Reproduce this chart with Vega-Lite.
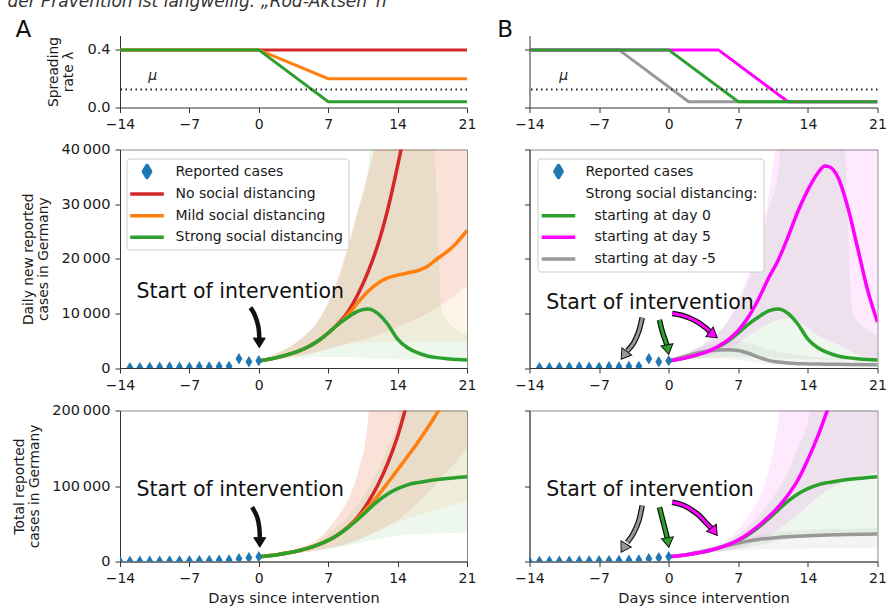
{
  "$schema": "https://vega.github.io/schema/vega-lite/v6.json",
  "padding": {"left": 7, "top": -7.5, "right": 0, "bottom": 0},
  "autosize": {"type": "pad"},
  "columns": 2,
  "spacing": {"row": 42, "column": 62.5},
  "bounds": "flush",
  "resolve": {"scale": {"x": "independent", "y": "independent", "color": "independent", "fill": "independent"}, "legend": {"color": "independent"}},
  "datasets": {
    "lambda": [
      {"s": "none", "day": -14, "r": 0.4}, {"s": "none", "day": 21, "r": 0.4},
      {"s": "mild", "day": -14, "r": 0.4}, {"s": "mild", "day": 0, "r": 0.4}, {"s": "mild", "day": 7, "r": 0.2}, {"s": "mild", "day": 21, "r": 0.2},
      {"s": "dayminus5", "day": -14, "r": 0.4}, {"s": "dayminus5", "day": -5, "r": 0.4}, {"s": "dayminus5", "day": 2, "r": 0.04}, {"s": "dayminus5", "day": 21, "r": 0.04},
      {"s": "day5", "day": -14, "r": 0.4}, {"s": "day5", "day": 5, "r": 0.4}, {"s": "day5", "day": 12, "r": 0.04}, {"s": "day5", "day": 21, "r": 0.04},
      {"s": "strong", "day": -14, "r": 0.4}, {"s": "strong", "day": 0, "r": 0.4}, {"s": "strong", "day": 7, "r": 0.04}, {"s": "strong", "day": 21, "r": 0.04}
    ],
    "mu": [{"mu": 0.125}],
    "daily": [
      {"s": "none", "day": 0, "v": 1300}, {"s": "none", "day": 1, "v": 1600}, {"s": "none", "day": 2, "v": 2000}, {"s": "none", "day": 3, "v": 2500}, {"s": "none", "day": 4, "v": 3100}, {"s": "none", "day": 5, "v": 3900}, {"s": "none", "day": 6, "v": 5000}, {"s": "none", "day": 7, "v": 6400}, {"s": "none", "day": 8, "v": 8100}, {"s": "none", "day": 9, "v": 10300}, {"s": "none", "day": 10, "v": 13500}, {"s": "none", "day": 11, "v": 17500}, {"s": "none", "day": 12, "v": 22500}, {"s": "none", "day": 13, "v": 29000}, {"s": "none", "day": 14, "v": 37000}, {"s": "none", "day": 15, "v": 46000},
      {"s": "mild", "day": 0, "v": 1300}, {"s": "mild", "day": 1, "v": 1600}, {"s": "mild", "day": 2, "v": 2000}, {"s": "mild", "day": 3, "v": 2500}, {"s": "mild", "day": 4, "v": 3100}, {"s": "mild", "day": 5, "v": 3900}, {"s": "mild", "day": 6, "v": 5000}, {"s": "mild", "day": 7, "v": 6400}, {"s": "mild", "day": 8, "v": 8000}, {"s": "mild", "day": 9, "v": 9800}, {"s": "mild", "day": 10, "v": 12000}, {"s": "mild", "day": 11, "v": 14000}, {"s": "mild", "day": 12, "v": 15500}, {"s": "mild", "day": 13, "v": 16500}, {"s": "mild", "day": 14, "v": 17000}, {"s": "mild", "day": 15, "v": 17400}, {"s": "mild", "day": 16, "v": 17800}, {"s": "mild", "day": 17, "v": 18600}, {"s": "mild", "day": 18, "v": 20000}, {"s": "mild", "day": 19, "v": 21300}, {"s": "mild", "day": 20, "v": 23000}, {"s": "mild", "day": 21, "v": 25200},
      {"s": "strong", "day": 0, "v": 1300}, {"s": "strong", "day": 1, "v": 1600}, {"s": "strong", "day": 2, "v": 2000}, {"s": "strong", "day": 3, "v": 2500}, {"s": "strong", "day": 4, "v": 3100}, {"s": "strong", "day": 5, "v": 3900}, {"s": "strong", "day": 6, "v": 5000}, {"s": "strong", "day": 7, "v": 6400}, {"s": "strong", "day": 8, "v": 8000}, {"s": "strong", "day": 9, "v": 9300}, {"s": "strong", "day": 10, "v": 10400}, {"s": "strong", "day": 11, "v": 10800}, {"s": "strong", "day": 12, "v": 10000}, {"s": "strong", "day": 13, "v": 8000}, {"s": "strong", "day": 14, "v": 5300}, {"s": "strong", "day": 15, "v": 3700}, {"s": "strong", "day": 16, "v": 2800}, {"s": "strong", "day": 17, "v": 2200}, {"s": "strong", "day": 18, "v": 1900}, {"s": "strong", "day": 19, "v": 1700}, {"s": "strong", "day": 20, "v": 1550}, {"s": "strong", "day": 21, "v": 1450},
      {"s": "dayminus5", "day": 0, "v": 1300}, {"s": "dayminus5", "day": 1, "v": 1800}, {"s": "dayminus5", "day": 2, "v": 2300}, {"s": "dayminus5", "day": 3, "v": 2800}, {"s": "dayminus5", "day": 4, "v": 3100}, {"s": "dayminus5", "day": 5, "v": 3300}, {"s": "dayminus5", "day": 6, "v": 3350}, {"s": "dayminus5", "day": 7, "v": 3200}, {"s": "dayminus5", "day": 8, "v": 2700}, {"s": "dayminus5", "day": 9, "v": 2000}, {"s": "dayminus5", "day": 10, "v": 1400}, {"s": "dayminus5", "day": 11, "v": 1100}, {"s": "dayminus5", "day": 12, "v": 900}, {"s": "dayminus5", "day": 13, "v": 800}, {"s": "dayminus5", "day": 14, "v": 750}, {"s": "dayminus5", "day": 16, "v": 700}, {"s": "dayminus5", "day": 18, "v": 650}, {"s": "dayminus5", "day": 21, "v": 600},
      {"s": "day5", "day": 0, "v": 1300}, {"s": "day5", "day": 1, "v": 1600}, {"s": "day5", "day": 2, "v": 2000}, {"s": "day5", "day": 3, "v": 2500}, {"s": "day5", "day": 4, "v": 3100}, {"s": "day5", "day": 5, "v": 4000}, {"s": "day5", "day": 6, "v": 5200}, {"s": "day5", "day": 7, "v": 6900}, {"s": "day5", "day": 8, "v": 9300}, {"s": "day5", "day": 9, "v": 12500}, {"s": "day5", "day": 10, "v": 16300}, {"s": "day5", "day": 11, "v": 19700}, {"s": "day5", "day": 12, "v": 24000}, {"s": "day5", "day": 13, "v": 28700}, {"s": "day5", "day": 14, "v": 32600}, {"s": "day5", "day": 15, "v": 35700}, {"s": "day5", "day": 15.7, "v": 37000}, {"s": "day5", "day": 16.2, "v": 36800}, {"s": "day5", "day": 17, "v": 35000}, {"s": "day5", "day": 18, "v": 29500}, {"s": "day5", "day": 19, "v": 22000}, {"s": "day5", "day": 20, "v": 14300}, {"s": "day5", "day": 21, "v": 8400}
    ],
    "dailyBand": [
      {"s": "none", "day": 0, "lo": 1300, "hi": 1300}, {"s": "none", "day": 2, "lo": 1700, "hi": 2800}, {"s": "none", "day": 4, "lo": 2200, "hi": 5000}, {"s": "none", "day": 6, "lo": 3000, "hi": 8700}, {"s": "none", "day": 7, "lo": 3500, "hi": 12000}, {"s": "none", "day": 8, "lo": 4000, "hi": 16500}, {"s": "none", "day": 9, "lo": 4500, "hi": 22500}, {"s": "none", "day": 10, "lo": 5000, "hi": 29000}, {"s": "none", "day": 11, "lo": 5500, "hi": 35500}, {"s": "none", "day": 12, "lo": 6000, "hi": 42000}, {"s": "none", "day": 14, "lo": 7500, "hi": 50000}, {"s": "none", "day": 17, "lo": 10000, "hi": 50000}, {"s": "none", "day": 21, "lo": 15000, "hi": 50000},
      {"s": "mild", "day": 0, "lo": 1300, "hi": 1300}, {"s": "mild", "day": 2, "lo": 1700, "hi": 2800}, {"s": "mild", "day": 4, "lo": 2200, "hi": 5000}, {"s": "mild", "day": 6, "lo": 3000, "hi": 8700}, {"s": "mild", "day": 7, "lo": 3500, "hi": 12000}, {"s": "mild", "day": 8, "lo": 4000, "hi": 16500}, {"s": "mild", "day": 9, "lo": 4400, "hi": 22500}, {"s": "mild", "day": 10, "lo": 4600, "hi": 29000}, {"s": "mild", "day": 11, "lo": 4700, "hi": 35500}, {"s": "mild", "day": 12, "lo": 4700, "hi": 42000}, {"s": "mild", "day": 14, "lo": 4700, "hi": 50000}, {"s": "mild", "day": 21, "lo": 4800, "hi": 50000},
      {"s": "strong", "day": 0, "lo": 1300, "hi": 1300}, {"s": "strong", "day": 2, "lo": 1600, "hi": 2800}, {"s": "strong", "day": 4, "lo": 1800, "hi": 5000}, {"s": "strong", "day": 6, "lo": 2000, "hi": 8700}, {"s": "strong", "day": 7, "lo": 2000, "hi": 11800}, {"s": "strong", "day": 8, "lo": 2000, "hi": 16000}, {"s": "strong", "day": 9, "lo": 2000, "hi": 21500}, {"s": "strong", "day": 10, "lo": 1900, "hi": 28500}, {"s": "strong", "day": 11, "lo": 1800, "hi": 36000}, {"s": "strong", "day": 11.5, "lo": 1700, "hi": 45000}, {"s": "strong", "day": 17.5, "lo": 1500, "hi": 45000}, {"s": "strong", "day": 18.5, "lo": 1500, "hi": 10000}, {"s": "strong", "day": 21, "lo": 1400, "hi": 6000},
      {"s": "dayminus5", "day": 0, "lo": 1300, "hi": 1300}, {"s": "dayminus5", "day": 2, "lo": 1500, "hi": 3000}, {"s": "dayminus5", "day": 4, "lo": 1700, "hi": 4300}, {"s": "dayminus5", "day": 6, "lo": 1600, "hi": 5000}, {"s": "dayminus5", "day": 8, "lo": 1200, "hi": 4600}, {"s": "dayminus5", "day": 10, "lo": 700, "hi": 3500}, {"s": "dayminus5", "day": 12, "lo": 450, "hi": 2600}, {"s": "dayminus5", "day": 14, "lo": 350, "hi": 2100}, {"s": "dayminus5", "day": 17, "lo": 300, "hi": 1800}, {"s": "dayminus5", "day": 21, "lo": 300, "hi": 1700},
      {"s": "day5", "day": 0, "lo": 1300, "hi": 1300}, {"s": "day5", "day": 2, "lo": 1700, "hi": 2800}, {"s": "day5", "day": 4, "lo": 2300, "hi": 5000}, {"s": "day5", "day": 6, "lo": 3500, "hi": 8800}, {"s": "day5", "day": 7, "lo": 4500, "hi": 12500}, {"s": "day5", "day": 8, "lo": 5800, "hi": 17000}, {"s": "day5", "day": 9, "lo": 7000, "hi": 23500}, {"s": "day5", "day": 10, "lo": 8000, "hi": 31000}, {"s": "day5", "day": 10.7, "lo": 8600, "hi": 40000}, {"s": "day5", "day": 11, "lo": 8800, "hi": 45000}, {"s": "day5", "day": 12, "lo": 9000, "hi": 45000}, {"s": "day5", "day": 13, "lo": 8500, "hi": 45000}, {"s": "day5", "day": 14, "lo": 7300, "hi": 45000}, {"s": "day5", "day": 15, "lo": 6000, "hi": 45000}, {"s": "day5", "day": 17, "lo": 4300, "hi": 45000}, {"s": "day5", "day": 19, "lo": 2500, "hi": 45000}, {"s": "day5", "day": 21, "lo": 1500, "hi": 45000}
    ],
    "total": [
      {"s": "none", "day": 0, "v": 6300}, {"s": "none", "day": 1, "v": 7600}, {"s": "none", "day": 2, "v": 9300}, {"s": "none", "day": 3, "v": 11500}, {"s": "none", "day": 4, "v": 14200}, {"s": "none", "day": 5, "v": 17700}, {"s": "none", "day": 6, "v": 22200}, {"s": "none", "day": 7, "v": 28000}, {"s": "none", "day": 8, "v": 35500}, {"s": "none", "day": 9, "v": 46000}, {"s": "none", "day": 10, "v": 59000}, {"s": "none", "day": 11, "v": 78000}, {"s": "none", "day": 12, "v": 101000}, {"s": "none", "day": 13, "v": 130000}, {"s": "none", "day": 14, "v": 166000}, {"s": "none", "day": 15, "v": 212000},
      {"s": "mild", "day": 0, "v": 6300}, {"s": "mild", "day": 1, "v": 7600}, {"s": "mild", "day": 2, "v": 9300}, {"s": "mild", "day": 3, "v": 11500}, {"s": "mild", "day": 4, "v": 14200}, {"s": "mild", "day": 5, "v": 17700}, {"s": "mild", "day": 6, "v": 22200}, {"s": "mild", "day": 7, "v": 28000}, {"s": "mild", "day": 8, "v": 35500}, {"s": "mild", "day": 9, "v": 45500}, {"s": "mild", "day": 10, "v": 57500}, {"s": "mild", "day": 11, "v": 71500}, {"s": "mild", "day": 12, "v": 87000}, {"s": "mild", "day": 13, "v": 104000}, {"s": "mild", "day": 14, "v": 121500}, {"s": "mild", "day": 15, "v": 139000}, {"s": "mild", "day": 16, "v": 157000}, {"s": "mild", "day": 17, "v": 176500}, {"s": "mild", "day": 18, "v": 197000}, {"s": "mild", "day": 19, "v": 219000},
      {"s": "strong", "day": 0, "v": 6300}, {"s": "strong", "day": 1, "v": 7600}, {"s": "strong", "day": 2, "v": 9300}, {"s": "strong", "day": 3, "v": 11500}, {"s": "strong", "day": 4, "v": 14200}, {"s": "strong", "day": 5, "v": 17700}, {"s": "strong", "day": 6, "v": 22200}, {"s": "strong", "day": 7, "v": 28000}, {"s": "strong", "day": 8, "v": 35500}, {"s": "strong", "day": 9, "v": 45000}, {"s": "strong", "day": 10, "v": 56000}, {"s": "strong", "day": 11, "v": 68000}, {"s": "strong", "day": 12, "v": 80000}, {"s": "strong", "day": 13, "v": 89500}, {"s": "strong", "day": 14, "v": 96500}, {"s": "strong", "day": 15, "v": 101500}, {"s": "strong", "day": 16, "v": 104500}, {"s": "strong", "day": 17, "v": 106700}, {"s": "strong", "day": 18, "v": 108500}, {"s": "strong", "day": 19, "v": 110000}, {"s": "strong", "day": 20, "v": 111200}, {"s": "strong", "day": 21, "v": 112300},
      {"s": "dayminus5", "day": 0, "v": 6300}, {"s": "dayminus5", "day": 1, "v": 7800}, {"s": "dayminus5", "day": 2, "v": 9800}, {"s": "dayminus5", "day": 3, "v": 12300}, {"s": "dayminus5", "day": 4, "v": 15100}, {"s": "dayminus5", "day": 5, "v": 18200}, {"s": "dayminus5", "day": 6, "v": 21400}, {"s": "dayminus5", "day": 7, "v": 24400}, {"s": "dayminus5", "day": 8, "v": 27000}, {"s": "dayminus5", "day": 9, "v": 29000}, {"s": "dayminus5", "day": 10, "v": 30600}, {"s": "dayminus5", "day": 11, "v": 31800}, {"s": "dayminus5", "day": 12, "v": 32700}, {"s": "dayminus5", "day": 13, "v": 33400}, {"s": "dayminus5", "day": 14, "v": 34000}, {"s": "dayminus5", "day": 16, "v": 35000}, {"s": "dayminus5", "day": 18, "v": 35700}, {"s": "dayminus5", "day": 21, "v": 36500},
      {"s": "day5", "day": 0, "v": 6300}, {"s": "day5", "day": 1, "v": 7600}, {"s": "day5", "day": 2, "v": 9300}, {"s": "day5", "day": 3, "v": 11500}, {"s": "day5", "day": 4, "v": 14200}, {"s": "day5", "day": 5, "v": 17700}, {"s": "day5", "day": 6, "v": 22200}, {"s": "day5", "day": 7, "v": 28500}, {"s": "day5", "day": 8, "v": 37000}, {"s": "day5", "day": 9, "v": 47000}, {"s": "day5", "day": 10, "v": 58500}, {"s": "day5", "day": 11, "v": 72000}, {"s": "day5", "day": 12, "v": 88000}, {"s": "day5", "day": 13, "v": 108000}, {"s": "day5", "day": 14, "v": 135000}, {"s": "day5", "day": 15, "v": 166000}, {"s": "day5", "day": 16, "v": 202000}, {"s": "day5", "day": 17, "v": 240000}
    ],
    "totalBand": [
      {"s": "none", "day": 0, "lo": 6300, "hi": 6300}, {"s": "none", "day": 2, "lo": 8500, "hi": 11000}, {"s": "none", "day": 4, "lo": 11500, "hi": 18000}, {"s": "none", "day": 6, "lo": 15000, "hi": 30000}, {"s": "none", "day": 7, "lo": 17500, "hi": 43000}, {"s": "none", "day": 8, "lo": 20500, "hi": 60000}, {"s": "none", "day": 9, "lo": 24000, "hi": 82000}, {"s": "none", "day": 10, "lo": 28500, "hi": 118000}, {"s": "none", "day": 11, "lo": 34000, "hi": 185000}, {"s": "none", "day": 11.3, "lo": 36000, "hi": 230000}, {"s": "none", "day": 14, "lo": 55000, "hi": 230000}, {"s": "none", "day": 17, "lo": 90000, "hi": 230000}, {"s": "none", "day": 21, "lo": 150000, "hi": 230000},
      {"s": "mild", "day": 0, "lo": 6300, "hi": 6300}, {"s": "mild", "day": 2, "lo": 8500, "hi": 11000}, {"s": "mild", "day": 4, "lo": 11500, "hi": 18000}, {"s": "mild", "day": 6, "lo": 15000, "hi": 30000}, {"s": "mild", "day": 7, "lo": 17500, "hi": 43000}, {"s": "mild", "day": 8, "lo": 20500, "hi": 60000}, {"s": "mild", "day": 9, "lo": 24000, "hi": 82000}, {"s": "mild", "day": 10, "lo": 28500, "hi": 118000}, {"s": "mild", "day": 11, "lo": 34000, "hi": 185000}, {"s": "mild", "day": 11.3, "lo": 36000, "hi": 230000}, {"s": "mild", "day": 14, "lo": 52000, "hi": 230000}, {"s": "mild", "day": 17, "lo": 65000, "hi": 230000}, {"s": "mild", "day": 21, "lo": 80000, "hi": 230000},
      {"s": "strong", "day": 0, "lo": 6300, "hi": 6300}, {"s": "strong", "day": 2, "lo": 8200, "hi": 10500}, {"s": "strong", "day": 4, "lo": 11000, "hi": 17000}, {"s": "strong", "day": 6, "lo": 14500, "hi": 27000}, {"s": "strong", "day": 7, "lo": 16500, "hi": 36000}, {"s": "strong", "day": 8, "lo": 19000, "hi": 47000}, {"s": "strong", "day": 9, "lo": 21500, "hi": 60000}, {"s": "strong", "day": 10, "lo": 24000, "hi": 76000}, {"s": "strong", "day": 11, "lo": 27000, "hi": 96000}, {"s": "strong", "day": 12, "lo": 29500, "hi": 120000}, {"s": "strong", "day": 13, "lo": 32000, "hi": 150000}, {"s": "strong", "day": 14, "lo": 34000, "hi": 185000}, {"s": "strong", "day": 14.7, "lo": 35000, "hi": 230000}, {"s": "strong", "day": 18, "lo": 37000, "hi": 230000}, {"s": "strong", "day": 21, "lo": 38000, "hi": 230000},
      {"s": "dayminus5", "day": 0, "lo": 6300, "hi": 6300}, {"s": "dayminus5", "day": 2, "lo": 8500, "hi": 11000}, {"s": "dayminus5", "day": 4, "lo": 11500, "hi": 18500}, {"s": "dayminus5", "day": 6, "lo": 14000, "hi": 26000}, {"s": "dayminus5", "day": 8, "lo": 15500, "hi": 32000}, {"s": "dayminus5", "day": 10, "lo": 16500, "hi": 37000}, {"s": "dayminus5", "day": 13, "lo": 17000, "hi": 41000}, {"s": "dayminus5", "day": 16, "lo": 17300, "hi": 43000}, {"s": "dayminus5", "day": 21, "lo": 17500, "hi": 44000},
      {"s": "day5", "day": 0, "lo": 6300, "hi": 6300}, {"s": "day5", "day": 2, "lo": 8500, "hi": 11000}, {"s": "day5", "day": 4, "lo": 11500, "hi": 18000}, {"s": "day5", "day": 6, "lo": 15500, "hi": 30000}, {"s": "day5", "day": 7, "lo": 18500, "hi": 43000}, {"s": "day5", "day": 8, "lo": 22500, "hi": 60000}, {"s": "day5", "day": 9, "lo": 28000, "hi": 82000}, {"s": "day5", "day": 10, "lo": 34000, "hi": 118000}, {"s": "day5", "day": 11, "lo": 42000, "hi": 185000}, {"s": "day5", "day": 11.4, "lo": 46000, "hi": 230000}, {"s": "day5", "day": 13, "lo": 62000, "hi": 230000}, {"s": "day5", "day": 15, "lo": 85000, "hi": 230000}, {"s": "day5", "day": 17, "lo": 102000, "hi": 230000}, {"s": "day5", "day": 19, "lo": 112000, "hi": 230000}, {"s": "day5", "day": 21, "lo": 118000, "hi": 230000}
    ],
    "repDaily": [
      {"day": -13, "v": 50}, {"day": -12, "v": 60}, {"day": -11, "v": 100}, {"day": -10, "v": 140}, {"day": -9, "v": 200}, {"day": -8, "v": 150}, {"day": -7, "v": 120}, {"day": -6, "v": 220}, {"day": -5, "v": 180}, {"day": -4, "v": 270}, {"day": -3, "v": 300}, {"day": -2, "v": 1700}, {"day": -1, "v": 1150}, {"day": 0, "v": 1350}
    ],
    "repTotal": [
      {"day": -14, "v": 150}, {"day": -13, "v": 190}, {"day": -12, "v": 240}, {"day": -11, "v": 350}, {"day": -10, "v": 500}, {"day": -9, "v": 700}, {"day": -8, "v": 850}, {"day": -7, "v": 1000}, {"day": -6, "v": 1200}, {"day": -5, "v": 1400}, {"day": -4, "v": 1650}, {"day": -3, "v": 2000}, {"day": -2, "v": 3700}, {"day": -1, "v": 4900}, {"day": 0, "v": 6300}
    ],
    "arrows": [
      {"a": "mA", "i": 0, "day": -0.84, "v": 11060}, {"a": "mA", "i": 1, "day": -0.4, "v": 9700}, {"a": "mA", "i": 2, "day": -0.05, "v": 7600}, {"a": "mA", "i": 3, "day": 0.05, "v": 5500},
      {"a": "mBg", "i": 0, "day": -2.67, "v": 9230}, {"a": "mBg", "i": 1, "day": -3.0, "v": 6790}, {"a": "mBg", "i": 2, "day": -3.51, "v": 4640}, {"a": "mBg", "i": 3, "day": -4.17, "v": 3120},
      {"a": "mBs", "i": 0, "day": -0.93, "v": 8800}, {"a": "mBs", "i": 1, "day": -0.66, "v": 6790}, {"a": "mBs", "i": 2, "day": -0.32, "v": 4950}, {"a": "mBs", "i": 3, "day": -0.15, "v": 4040},
      {"a": "mBm", "i": 0, "day": 0.35, "v": 9960}, {"a": "mBm", "i": 1, "day": 1.52, "v": 9540}, {"a": "mBm", "i": 2, "day": 2.7, "v": 8620}, {"a": "mBm", "i": 3, "day": 3.7, "v": 7400}, {"a": "mBm", "i": 4, "day": 4.21, "v": 6480},
      {"a": "bA", "i": 0, "day": -0.67, "v": 71900}, {"a": "bA", "i": 1, "day": -0.16, "v": 58700}, {"a": "bA", "i": 2, "day": 0.05, "v": 45000}, {"a": "bA", "i": 3, "day": 0.1, "v": 31700},
      {"a": "bBg", "i": 0, "day": -2.67, "v": 74200}, {"a": "bBg", "i": 1, "day": -3.0, "v": 54300}, {"a": "bBg", "i": 2, "day": -3.57, "v": 36700}, {"a": "bBg", "i": 3, "day": -4.17, "v": 25600},
      {"a": "bBs", "i": 0, "day": -0.93, "v": 71900}, {"a": "bBs", "i": 1, "day": -0.59, "v": 54300}, {"a": "bBs", "i": 2, "day": -0.25, "v": 36700}, {"a": "bBs", "i": 3, "day": -0.09, "v": 27800},
      {"a": "bBm", "i": 0, "day": 0.35, "v": 78500}, {"a": "bBm", "i": 1, "day": 1.52, "v": 74200}, {"a": "bBm", "i": 2, "day": 2.86, "v": 63200}, {"a": "bBm", "i": 3, "day": 3.86, "v": 49900}, {"a": "bBm", "i": 4, "day": 4.36, "v": 43300}
    ],
    "heads": [
      {"a": "mA", "day": 0.05, "v": 3720}, {"a": "mBg", "day": -4.78, "v": 1600}, {"a": "mBs", "day": 0.01, "v": 2510}, {"a": "mBm", "day": 4.88, "v": 5560},
      {"a": "bA", "day": 0.1, "v": 18900}, {"a": "bBg", "day": -4.78, "v": 12300}, {"a": "bBs", "day": 0.01, "v": 18900}, {"a": "bBm", "day": 4.88, "v": 34400}
    ]
  },
  "concat": [
    {
      "width": 347, "height": 72, "view": {"stroke": null},
      "layer": [
        {"data": {"name": "lambda"}, "transform": [{"filter": "datum.s == 'none' || datum.s == 'mild' || datum.s == 'strong'"}],
         "mark": {"type": "line", "strokeWidth": 3, "clip": true},
         "encoding": {
           "x": {"field": "day", "type": "quantitative", "scale": {"domain": [-14, 21], "nice": false}, "axis": {"values": [-14, -7, 0, 7, 14, 21], "title": null}},
           "y": {"field": "r", "type": "quantitative", "scale": {"domain": [0, 0.5], "nice": false}, "axis": {"values": [0, 0.2, 0.4], "format": ".1f", "title": ["Spreading", "rate λ"], "titlePadding": 11, "labelFontSize": 14.5}},
           "color": {"field": "s", "type": "nominal", "scale": {"domain": ["none", "mild", "strong"], "range": ["#d62728", "#ff7f0e", "#2ca02c"]}, "legend": null}}},
        {"data": {"name": "mu"}, "mark": {"type": "rule", "strokeDash": [1.5, 3.5], "strokeWidth": 1.8, "color": "#222222"},
         "encoding": {"y": {"field": "mu", "type": "quantitative", "scale": {"domain": [0, 0.5], "nice": false}}}},
        {"data": {"values": [{}]}, "mark": {"type": "text", "text": "μ", "fontStyle": "italic", "fontSize": 14, "align": "center", "baseline": "middle", "color": "#222222"},
         "encoding": {"x": {"datum": -10.7, "type": "quantitative", "scale": {"domain": [-14, 21], "nice": false}}, "y": {"datum": 0.222, "type": "quantitative", "scale": {"domain": [0, 0.5], "nice": false}}}},
        {"data": {"values": [{}]}, "mark": {"type": "text", "text": "A", "fontSize": 23, "align": "left", "baseline": "alphabetic", "color": "#111111"},
         "encoding": {"x": {"datum": -24.54, "type": "quantitative", "scale": {"domain": [-14, 21], "nice": false}}, "y": {"datum": 0.488, "type": "quantitative", "scale": {"domain": [0, 0.5], "nice": false}}}},
        {"data": {"values": [{}]}, "mark": {"type": "text", "text": "der Prävention ist langweilig: „Rod-Aktsen“n", "fontSize": 17, "fontStyle": "italic", "align": "left", "baseline": "alphabetic", "color": "#333333"},
         "encoding": {"x": {"datum": -25.35, "type": "quantitative", "scale": {"domain": [-14, 21], "nice": false}}, "y": {"datum": 0.7, "type": "quantitative", "scale": {"domain": [0, 0.5], "nice": false}}}}
      ]
    },
    {
      "width": 348, "height": 72, "view": {"stroke": null},
      "layer": [
        {"data": {"name": "lambda"}, "transform": [{"filter": "datum.s == 'dayminus5' || datum.s == 'day5' || datum.s == 'strong'"}],
         "mark": {"type": "line", "strokeWidth": 3, "clip": true},
         "encoding": {
           "x": {"field": "day", "type": "quantitative", "scale": {"domain": [-14, 21], "nice": false}, "axis": {"values": [-14, -7, 0, 7, 14, 21], "title": null}},
           "y": {"field": "r", "type": "quantitative", "scale": {"domain": [0, 0.5], "nice": false}, "axis": {"values": [0, 0.2, 0.4], "labels": false, "title": null}},
           "color": {"field": "s", "type": "nominal", "scale": {"domain": ["dayminus5", "day5", "strong"], "range": ["#999999", "#ff00ff", "#2ca02c"]}, "legend": null}}},
        {"data": {"name": "mu"}, "mark": {"type": "rule", "strokeDash": [1.5, 3.5], "strokeWidth": 1.8, "color": "#222222"},
         "encoding": {"y": {"field": "mu", "type": "quantitative", "scale": {"domain": [0, 0.5], "nice": false}}}},
        {"data": {"values": [{}]}, "mark": {"type": "text", "text": "μ", "fontStyle": "italic", "fontSize": 14, "align": "center", "baseline": "middle", "color": "#222222"},
         "encoding": {"x": {"datum": -10.55, "type": "quantitative", "scale": {"domain": [-14, 21], "nice": false}}, "y": {"datum": 0.222, "type": "quantitative", "scale": {"domain": [0, 0.5], "nice": false}}}},
        {"data": {"values": [{}]}, "mark": {"type": "text", "text": "B", "fontSize": 23, "align": "left", "baseline": "alphabetic", "color": "#111111"},
         "encoding": {"x": {"datum": -17.25, "type": "quantitative", "scale": {"domain": [-14, 21], "nice": false}}, "y": {"datum": 0.493, "type": "quantitative", "scale": {"domain": [0, 0.5], "nice": false}}}}
      ]
    },
    {
      "width": 347, "height": 218.5,
      "layer": [
        {"data": {"name": "dailyBand"}, "transform": [{"filter": "datum.s == 'none' || datum.s == 'mild' || datum.s == 'strong'"}],
         "mark": {"type": "area", "opacity": 0.085, "clip": true, "interpolate": "monotone"},
         "encoding": {
           "x": {"field": "day", "type": "quantitative", "scale": {"domain": [-14, 21], "nice": false}, "axis": {"values": [-14, -7, 0, 7, 14, 21], "title": null}},
           "y": {"field": "lo", "type": "quantitative", "scale": {"domain": [0, 40000], "nice": false}, "axis": {"values": [0, 10000, 20000, 30000, 40000], "labelExpr": "replace(format(datum.value, ','), ',', '\u2009')", "title": ["Daily new reported", "cases in Germany"], "titlePadding": 10, "labelFontSize": 14.5}},
           "y2": {"field": "hi"},
           "fill": {"field": "s", "type": "nominal", "scale": {"domain": ["none", "mild", "strong"], "range": ["#d62728", "#ff7f0e", "#2ca02c"]}, "legend": null}}},
        {"data": {"name": "daily"}, "transform": [{"filter": "datum.s == 'none' || datum.s == 'mild' || datum.s == 'strong'"}],
         "mark": {"type": "line", "strokeWidth": 3.5, "clip": true, "interpolate": "monotone"},
         "encoding": {
           "x": {"field": "day", "type": "quantitative", "scale": {"domain": [-14, 21], "nice": false}},
           "y": {"field": "v", "type": "quantitative", "scale": {"domain": [0, 40000], "nice": false}},
           "color": {"field": "s", "type": "nominal", "scale": {"domain": ["rep", "none", "mild", "strong"], "range": ["#1f77b4", "#d62728", "#ff7f0e", "#2ca02c"]},
             "legend": {"orient": "none", "legendX": 6.5, "legendY": 9, "title": null, "fillColor": "white", "strokeColor": "#cccccc", "cornerRadius": 3, "padding": 5,
               "symbolSize": 144, "symbolStrokeWidth": 3.5, "symbolOffset": 7.5, "labelOffset": 20.5, "rowPadding": 6.6, "labelFontSize": 14, "labelColor": "#1a1a1a", "labelLimit": 0,
               "labelExpr": "datum.label == 'rep' ? 'Reported cases' : datum.label == 'none' ? 'No social distancing' : datum.label == 'mild' ? 'Mild social distancing' : 'Strong social distancing'",
               "encode": {"symbols": {"update": {
                 "shape": {"signal": "datum.value == 'rep' ? 'M0,-1L0.6,0L0,1L-0.6,0Z' : 'M-2.8,0L2.8,0'"},
                 "size": {"value": 144},
                 "fill": {"signal": "datum.value == 'rep' ? '#1f77b4' : 'transparent'"},
                 "stroke": {"signal": "datum.value == 'none' ? '#d62728' : datum.value == 'mild' ? '#ff7f0e' : datum.value == 'strong' ? '#2ca02c' : 'transparent'"},
                 "strokeWidth": {"value": 3.5},
                 "strokeJoin": {"value": "round"},
                 "opacity": {"value": 1}, "fillOpacity": {"value": 1}, "strokeOpacity": {"value": 1}}}}}}}},
        {"data": {"name": "repDaily"}, "mark": {"type": "point", "shape": "M0,-1L0.6,0L0,1L-0.6,0Z", "size": 130, "filled": true, "color": "#1f77b4", "opacity": 1, "clip": true},
         "encoding": {"x": {"field": "day", "type": "quantitative", "scale": {"domain": [-14, 21], "nice": false}}, "y": {"field": "v", "type": "quantitative", "scale": {"domain": [0, 40000], "nice": false}}}},
        {"data": {"values": [{}]}, "mark": {"type": "text", "text": "Start of intervention", "fontSize": 20.5, "align": "left", "baseline": "alphabetic", "color": "#111111"},
         "encoding": {"x": {"datum": -12.34, "type": "quantitative", "scale": {"domain": [-14, 21], "nice": false}}, "y": {"datum": 12900, "type": "quantitative", "scale": {"domain": [0, 40000], "nice": false}}}},
        {"data": {"name": "arrows"}, "transform": [{"filter": "datum.a == 'mA'"}], "mark": {"type": "line", "color": "#111111", "strokeWidth": 4.5, "interpolate": "cardinal"},
         "encoding": {"x": {"field": "day", "type": "quantitative", "scale": {"domain": [-14, 21], "nice": false}}, "y": {"field": "v", "type": "quantitative", "scale": {"domain": [0, 40000], "nice": false}}, "order": {"field": "i"}}},
        {"data": {"name": "heads"}, "transform": [{"filter": "datum.a == 'mA'"}], "mark": {"type": "point", "shape": "M-1,-1.6L1,-1.6L0,0Z", "size": 144, "filled": true, "fill": "#111111", "stroke": "#111111", "strokeWidth": 1, "opacity": 1, "angle": 0},
         "encoding": {"x": {"field": "day", "type": "quantitative", "scale": {"domain": [-14, 21], "nice": false}}, "y": {"field": "v", "type": "quantitative", "scale": {"domain": [0, 40000], "nice": false}}}}
      ]
    },
    {
      "width": 348, "height": 218.5,
      "layer": [
        {"data": {"name": "dailyBand"}, "transform": [{"filter": "datum.s == 'strong' || datum.s == 'dayminus5' || datum.s == 'day5'"}],
         "mark": {"type": "area", "opacity": 0.085, "clip": true, "interpolate": "monotone"},
         "encoding": {
           "x": {"field": "day", "type": "quantitative", "scale": {"domain": [-14, 21], "nice": false}, "axis": {"values": [-14, -7, 0, 7, 14, 21], "title": null}},
           "y": {"field": "lo", "type": "quantitative", "scale": {"domain": [0, 40000], "nice": false}, "axis": {"values": [0, 10000, 20000, 30000, 40000], "labels": false, "title": null}},
           "y2": {"field": "hi"},
           "fill": {"field": "s", "type": "nominal", "scale": {"domain": ["strong", "dayminus5", "day5"], "range": ["#2ca02c", "#7f7f7f", "#ff00ff"]}, "legend": null}}},
        {"data": {"name": "daily"}, "transform": [{"filter": "datum.s == 'strong' || datum.s == 'dayminus5' || datum.s == 'day5'"}],
         "mark": {"type": "line", "strokeWidth": 3.5, "clip": true, "interpolate": "monotone"},
         "encoding": {
           "x": {"field": "day", "type": "quantitative", "scale": {"domain": [-14, 21], "nice": false}},
           "y": {"field": "v", "type": "quantitative", "scale": {"domain": [0, 40000], "nice": false}},
           "color": {"field": "s", "type": "nominal", "scale": {"domain": ["rep", "hdr", "strong", "day5", "dayminus5"], "range": ["#1f77b4", "#ffffff", "#2ca02c", "#ff00ff", "#999999"]},
             "legend": {"orient": "none", "legendX": 8, "legendY": 9, "title": null, "fillColor": "white", "strokeColor": "#cccccc", "cornerRadius": 3, "padding": 5,
               "symbolSize": 144, "symbolStrokeWidth": 3.5, "symbolOffset": 8, "labelOffset": 19, "rowPadding": 6.6, "labelFontSize": 14, "labelColor": "#1a1a1a", "labelLimit": 0,
               "labelExpr": "datum.label == 'rep' ? 'Reported cases' : datum.label == 'hdr' ? 'Strong social distancing:' : datum.label == 'strong' ? 'starting at day 0' : datum.label == 'day5' ? 'starting at day 5' : 'starting at day -5'",
               "encode": {
                 "symbols": {"update": {
                   "shape": {"signal": "datum.value == 'rep' ? 'M0,-1L0.6,0L0,1L-0.6,0Z' : 'M-2.8,0L2.8,0'"},
                   "size": {"value": 144},
                   "fill": {"signal": "datum.value == 'rep' ? '#1f77b4' : 'transparent'"},
                   "stroke": {"signal": "datum.value == 'strong' ? '#2ca02c' : datum.value == 'day5' ? '#ff00ff' : datum.value == 'dayminus5' ? '#999999' : 'transparent'"},
                   "strokeWidth": {"value": 3.5},
                   "strokeJoin": {"value": "round"},
                   "opacity": {"value": 1}, "fillOpacity": {"value": 1}, "strokeOpacity": {"value": 1}}},
                 "labels": {"update": {"dx": {"signal": "datum.value == 'rep' || datum.value == 'hdr' ? 0 : 9"}}}}}}}},
        {"data": {"name": "repDaily"}, "mark": {"type": "point", "shape": "M0,-1L0.6,0L0,1L-0.6,0Z", "size": 130, "filled": true, "color": "#1f77b4", "opacity": 1, "clip": true},
         "encoding": {"x": {"field": "day", "type": "quantitative", "scale": {"domain": [-14, 21], "nice": false}}, "y": {"field": "v", "type": "quantitative", "scale": {"domain": [0, 40000], "nice": false}}}},
        {"data": {"values": [{}]}, "mark": {"type": "text", "text": "Start of intervention", "fontSize": 20.5, "align": "left", "baseline": "alphabetic", "color": "#111111"},
         "encoding": {"x": {"datum": -12.32, "type": "quantitative", "scale": {"domain": [-14, 21], "nice": false}}, "y": {"datum": 10770, "type": "quantitative", "scale": {"domain": [0, 40000], "nice": false}}}},
        {"data": {"name": "arrows"}, "transform": [{"filter": "datum.a == 'mBg' || datum.a == 'mBs' || datum.a == 'mBm'"}], "mark": {"type": "line", "color": "#111111", "strokeWidth": 5.5, "interpolate": "cardinal"},
         "encoding": {"x": {"field": "day", "type": "quantitative", "scale": {"domain": [-14, 21], "nice": false}}, "y": {"field": "v", "type": "quantitative", "scale": {"domain": [0, 40000], "nice": false}}, "detail": {"field": "a"}, "order": {"field": "i"}}},
        {"data": {"name": "arrows"}, "transform": [{"filter": "datum.a == 'mBg'"}], "mark": {"type": "line", "color": "#999999", "strokeWidth": 3, "interpolate": "cardinal"},
         "encoding": {"x": {"field": "day", "type": "quantitative", "scale": {"domain": [-14, 21], "nice": false}}, "y": {"field": "v", "type": "quantitative", "scale": {"domain": [0, 40000], "nice": false}}, "order": {"field": "i"}}},
        {"data": {"name": "arrows"}, "transform": [{"filter": "datum.a == 'mBs'"}], "mark": {"type": "line", "color": "#2ca02c", "strokeWidth": 3, "interpolate": "cardinal"},
         "encoding": {"x": {"field": "day", "type": "quantitative", "scale": {"domain": [-14, 21], "nice": false}}, "y": {"field": "v", "type": "quantitative", "scale": {"domain": [0, 40000], "nice": false}}, "order": {"field": "i"}}},
        {"data": {"name": "arrows"}, "transform": [{"filter": "datum.a == 'mBm'"}], "mark": {"type": "line", "color": "#ff00ff", "strokeWidth": 3, "interpolate": "cardinal"},
         "encoding": {"x": {"field": "day", "type": "quantitative", "scale": {"domain": [-14, 21], "nice": false}}, "y": {"field": "v", "type": "quantitative", "scale": {"domain": [0, 40000], "nice": false}}, "order": {"field": "i"}}},
        {"data": {"name": "heads"}, "transform": [{"filter": "datum.a == 'mBg'"}], "mark": {"type": "point", "shape": "M-1,-1.6L1,-1.6L0,0Z", "size": 144, "filled": true, "fill": "#999999", "stroke": "#111111", "strokeWidth": 1, "opacity": 1, "angle": 36},
         "encoding": {"x": {"field": "day", "type": "quantitative", "scale": {"domain": [-14, 21], "nice": false}}, "y": {"field": "v", "type": "quantitative", "scale": {"domain": [0, 40000], "nice": false}}}},
        {"data": {"name": "heads"}, "transform": [{"filter": "datum.a == 'mBs'"}], "mark": {"type": "point", "shape": "M-1,-1.6L1,-1.6L0,0Z", "size": 144, "filled": true, "fill": "#2ca02c", "stroke": "#111111", "strokeWidth": 1, "opacity": 1, "angle": -11},
         "encoding": {"x": {"field": "day", "type": "quantitative", "scale": {"domain": [-14, 21], "nice": false}}, "y": {"field": "v", "type": "quantitative", "scale": {"domain": [0, 40000], "nice": false}}}},
        {"data": {"name": "heads"}, "transform": [{"filter": "datum.a == 'mBm'"}], "mark": {"type": "point", "shape": "M-1,-1.6L1,-1.6L0,0Z", "size": 144, "filled": true, "fill": "#ff00ff", "stroke": "#111111", "strokeWidth": 1, "opacity": 1, "angle": -53},
         "encoding": {"x": {"field": "day", "type": "quantitative", "scale": {"domain": [-14, 21], "nice": false}}, "y": {"field": "v", "type": "quantitative", "scale": {"domain": [0, 40000], "nice": false}}}}
      ]
    },
    {
      "width": 347, "height": 151,
      "layer": [
        {"data": {"name": "totalBand"}, "transform": [{"filter": "datum.s == 'none' || datum.s == 'mild' || datum.s == 'strong'"}],
         "mark": {"type": "area", "opacity": 0.085, "clip": true, "interpolate": "monotone"},
         "encoding": {
           "x": {"field": "day", "type": "quantitative", "scale": {"domain": [-14, 21], "nice": false}, "axis": {"values": [-14, -7, 0, 7, 14, 21], "title": "Days since intervention", "titleFontSize": 14.5, "titlePadding": 6}},
           "y": {"field": "lo", "type": "quantitative", "scale": {"domain": [0, 200000], "nice": false}, "axis": {"values": [0, 50000, 100000, 150000, 200000], "labelExpr": "replace(format(datum.value, ','), ',', '\u2009')", "title": ["Total reported", "cases in Germany"], "titlePadding": 10, "labelFontSize": 14.5}},
           "y2": {"field": "hi"},
           "fill": {"field": "s", "type": "nominal", "scale": {"domain": ["none", "mild", "strong"], "range": ["#d62728", "#ff7f0e", "#2ca02c"]}, "legend": null}}},
        {"data": {"name": "total"}, "transform": [{"filter": "datum.s == 'none' || datum.s == 'mild' || datum.s == 'strong'"}],
         "mark": {"type": "line", "strokeWidth": 3.5, "clip": true, "interpolate": "monotone"},
         "encoding": {
           "x": {"field": "day", "type": "quantitative", "scale": {"domain": [-14, 21], "nice": false}},
           "y": {"field": "v", "type": "quantitative", "scale": {"domain": [0, 200000], "nice": false}},
           "color": {"field": "s", "type": "nominal", "scale": {"domain": ["none", "mild", "strong"], "range": ["#d62728", "#ff7f0e", "#2ca02c"]}, "legend": null}}},
        {"data": {"name": "repTotal"}, "mark": {"type": "point", "shape": "M0,-1L0.6,0L0,1L-0.6,0Z", "size": 130, "filled": true, "color": "#1f77b4", "opacity": 1, "clip": true},
         "encoding": {"x": {"field": "day", "type": "quantitative", "scale": {"domain": [-14, 21], "nice": false}}, "y": {"field": "v", "type": "quantitative", "scale": {"domain": [0, 200000], "nice": false}}}},
        {"data": {"values": [{}]}, "mark": {"type": "text", "text": "Start of intervention", "fontSize": 20.5, "align": "left", "baseline": "alphabetic", "color": "#111111"},
         "encoding": {"x": {"datum": -12.34, "type": "quantitative", "scale": {"domain": [-14, 21], "nice": false}}, "y": {"datum": 86100, "type": "quantitative", "scale": {"domain": [0, 200000], "nice": false}}}},
        {"data": {"name": "arrows"}, "transform": [{"filter": "datum.a == 'bA'"}], "mark": {"type": "line", "color": "#111111", "strokeWidth": 4.5, "interpolate": "cardinal"},
         "encoding": {"x": {"field": "day", "type": "quantitative", "scale": {"domain": [-14, 21], "nice": false}}, "y": {"field": "v", "type": "quantitative", "scale": {"domain": [0, 200000], "nice": false}}, "order": {"field": "i"}}},
        {"data": {"name": "heads"}, "transform": [{"filter": "datum.a == 'bA'"}], "mark": {"type": "point", "shape": "M-1,-1.6L1,-1.6L0,0Z", "size": 144, "filled": true, "fill": "#111111", "stroke": "#111111", "strokeWidth": 1, "opacity": 1, "angle": 0},
         "encoding": {"x": {"field": "day", "type": "quantitative", "scale": {"domain": [-14, 21], "nice": false}}, "y": {"field": "v", "type": "quantitative", "scale": {"domain": [0, 200000], "nice": false}}}}
      ]
    },
    {
      "width": 348, "height": 151,
      "layer": [
        {"data": {"name": "totalBand"}, "transform": [{"filter": "datum.s == 'strong' || datum.s == 'dayminus5' || datum.s == 'day5'"}],
         "mark": {"type": "area", "opacity": 0.085, "clip": true, "interpolate": "monotone"},
         "encoding": {
           "x": {"field": "day", "type": "quantitative", "scale": {"domain": [-14, 21], "nice": false}, "axis": {"values": [-14, -7, 0, 7, 14, 21], "title": "Days since intervention", "titleFontSize": 14.5, "titlePadding": 6}},
           "y": {"field": "lo", "type": "quantitative", "scale": {"domain": [0, 200000], "nice": false}, "axis": {"values": [0, 50000, 100000, 150000, 200000], "labels": false, "title": null}},
           "y2": {"field": "hi"},
           "fill": {"field": "s", "type": "nominal", "scale": {"domain": ["strong", "dayminus5", "day5"], "range": ["#2ca02c", "#7f7f7f", "#ff00ff"]}, "legend": null}}},
        {"data": {"name": "total"}, "transform": [{"filter": "datum.s == 'strong' || datum.s == 'dayminus5' || datum.s == 'day5'"}],
         "mark": {"type": "line", "strokeWidth": 3.5, "clip": true, "interpolate": "monotone"},
         "encoding": {
           "x": {"field": "day", "type": "quantitative", "scale": {"domain": [-14, 21], "nice": false}},
           "y": {"field": "v", "type": "quantitative", "scale": {"domain": [0, 200000], "nice": false}},
           "color": {"field": "s", "type": "nominal", "scale": {"domain": ["strong", "day5", "dayminus5"], "range": ["#2ca02c", "#ff00ff", "#999999"]}, "legend": null}}},
        {"data": {"name": "repTotal"}, "mark": {"type": "point", "shape": "M0,-1L0.6,0L0,1L-0.6,0Z", "size": 130, "filled": true, "color": "#1f77b4", "opacity": 1, "clip": true},
         "encoding": {"x": {"field": "day", "type": "quantitative", "scale": {"domain": [-14, 21], "nice": false}}, "y": {"field": "v", "type": "quantitative", "scale": {"domain": [0, 200000], "nice": false}}}},
        {"data": {"values": [{}]}, "mark": {"type": "text", "text": "Start of intervention", "fontSize": 20.5, "align": "left", "baseline": "alphabetic", "color": "#111111"},
         "encoding": {"x": {"datum": -12.32, "type": "quantitative", "scale": {"domain": [-14, 21], "nice": false}}, "y": {"datum": 86100, "type": "quantitative", "scale": {"domain": [0, 200000], "nice": false}}}},
        {"data": {"name": "arrows"}, "transform": [{"filter": "datum.a == 'bBg' || datum.a == 'bBs' || datum.a == 'bBm'"}], "mark": {"type": "line", "color": "#111111", "strokeWidth": 5.5, "interpolate": "cardinal"},
         "encoding": {"x": {"field": "day", "type": "quantitative", "scale": {"domain": [-14, 21], "nice": false}}, "y": {"field": "v", "type": "quantitative", "scale": {"domain": [0, 200000], "nice": false}}, "detail": {"field": "a"}, "order": {"field": "i"}}},
        {"data": {"name": "arrows"}, "transform": [{"filter": "datum.a == 'bBg'"}], "mark": {"type": "line", "color": "#999999", "strokeWidth": 3, "interpolate": "cardinal"},
         "encoding": {"x": {"field": "day", "type": "quantitative", "scale": {"domain": [-14, 21], "nice": false}}, "y": {"field": "v", "type": "quantitative", "scale": {"domain": [0, 200000], "nice": false}}, "order": {"field": "i"}}},
        {"data": {"name": "arrows"}, "transform": [{"filter": "datum.a == 'bBs'"}], "mark": {"type": "line", "color": "#2ca02c", "strokeWidth": 3, "interpolate": "cardinal"},
         "encoding": {"x": {"field": "day", "type": "quantitative", "scale": {"domain": [-14, 21], "nice": false}}, "y": {"field": "v", "type": "quantitative", "scale": {"domain": [0, 200000], "nice": false}}, "order": {"field": "i"}}},
        {"data": {"name": "arrows"}, "transform": [{"filter": "datum.a == 'bBm'"}], "mark": {"type": "line", "color": "#ff00ff", "strokeWidth": 3, "interpolate": "cardinal"},
         "encoding": {"x": {"field": "day", "type": "quantitative", "scale": {"domain": [-14, 21], "nice": false}}, "y": {"field": "v", "type": "quantitative", "scale": {"domain": [0, 200000], "nice": false}}, "order": {"field": "i"}}},
        {"data": {"name": "heads"}, "transform": [{"filter": "datum.a == 'bBg'"}], "mark": {"type": "point", "shape": "M-1,-1.6L1,-1.6L0,0Z", "size": 144, "filled": true, "fill": "#999999", "stroke": "#111111", "strokeWidth": 1, "opacity": 1, "angle": 31},
         "encoding": {"x": {"field": "day", "type": "quantitative", "scale": {"domain": [-14, 21], "nice": false}}, "y": {"field": "v", "type": "quantitative", "scale": {"domain": [0, 200000], "nice": false}}}},
        {"data": {"name": "heads"}, "transform": [{"filter": "datum.a == 'bBs'"}], "mark": {"type": "point", "shape": "M-1,-1.6L1,-1.6L0,0Z", "size": 144, "filled": true, "fill": "#2ca02c", "stroke": "#111111", "strokeWidth": 1, "opacity": 1, "angle": -8.5},
         "encoding": {"x": {"field": "day", "type": "quantitative", "scale": {"domain": [-14, 21], "nice": false}}, "y": {"field": "v", "type": "quantitative", "scale": {"domain": [0, 200000], "nice": false}}}},
        {"data": {"name": "heads"}, "transform": [{"filter": "datum.a == 'bBm'"}], "mark": {"type": "point", "shape": "M-1,-1.6L1,-1.6L0,0Z", "size": 144, "filled": true, "fill": "#ff00ff", "stroke": "#111111", "strokeWidth": 1, "opacity": 1, "angle": -37},
         "encoding": {"x": {"field": "day", "type": "quantitative", "scale": {"domain": [-14, 21], "nice": false}}, "y": {"field": "v", "type": "quantitative", "scale": {"domain": [0, 200000], "nice": false}}}}
      ]
    }
  ],
  "config": {
    "font": "DejaVu Sans",
    "view": {"stroke": "#8c8c8c"},
    "axis": {"labelFont": "DejaVu Sans", "labelFontSize": 14, "labelColor": "#1a1a1a", "titleFont": "DejaVu Sans", "titleFontSize": 13.8, "titleFontWeight": "normal", "titleColor": "#1a1a1a", "titleLineHeight": 15.5, "domainColor": "#333333", "tickColor": "#333333", "tickSize": 5, "labelPadding": 5, "titlePadding": 7, "grid": false, "labelFlush": false, "labelOverlap": false, "labelBound": false},
    "legend": {"labelFont": "DejaVu Sans"},
    "text": {"font": "DejaVu Sans"}
  }
}
